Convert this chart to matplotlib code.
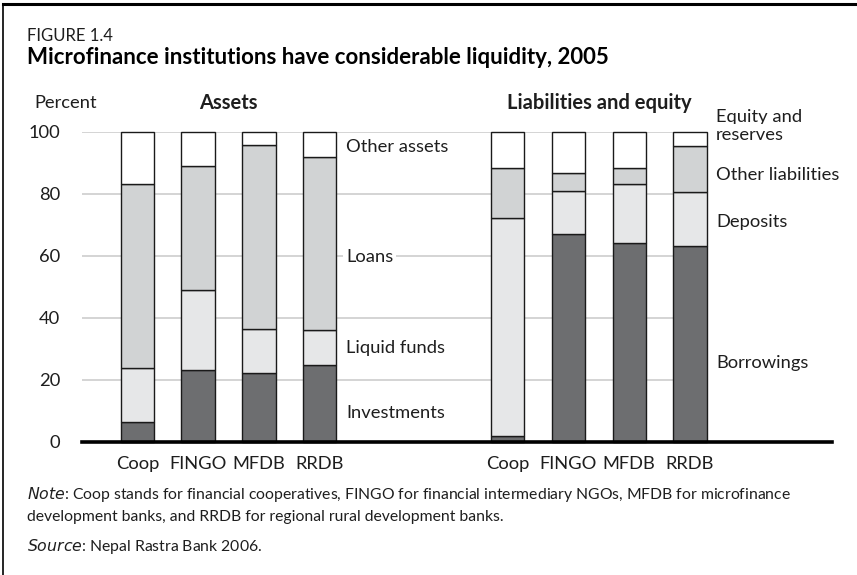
import matplotlib.pyplot as plt
from matplotlib.lines import Line2D

plt.rcParams['font.family'] = ['Lato', 'DejaVu Sans']

W, H = 857, 575

institutions = ['Coop', 'FINGO', 'MFDB', 'RRDB']

# assets, percent of total
investments = [6.3, 23.1, 22.2, 24.8]
liquid_funds = [17.6, 25.8, 14.3, 11.2]
loans = [59.1, 40.0, 59.1, 55.9]
other_assets = [17.0, 11.1, 4.4, 8.1]

# liabilities and equity, percent of total
borrowings = [2.0, 67.1, 64.0, 63.1]
deposits = [70.3, 13.9, 19.0, 17.5]
other_liabilities = [15.9, 5.6, 5.2, 14.9]
equity_reserves = [11.8, 13.4, 11.8, 4.5]

yticks = [0, 20, 40, 60, 80, 100]

dark = '#6d6e70'
light = '#e6e7e8'
mid = '#d1d3d4'
colors = [dark, light, mid, 'white']

x_assets = [0, 1, 2, 3]
x_liab = [6.09, 7.09, 8.09, 9.09]
bw = 0.55
fs = 13.2
ink = '#1e1e1e'

fig = plt.figure(figsize=(W / 100, H / 100), dpi=100)
ax = fig.add_axes([82.3 / W, 1 - 442 / H, (831.7 - 82.3) / W, (442 - 131.7) / H])
ax.set_xlim(-0.905, 11.42)
ax.set_ylim(0, 100)

# gridlines, stop at the last bar
for t in yticks[1:]:
    ax.plot([-0.905, 9.37], [t, t], color='#cdcdcd', lw=1.2, zorder=0)


def stack(xs, series):
    bottom = [0] * len(xs)
    for vals, c in zip(series, colors):
        ax.bar(xs, vals, bw, bottom=bottom, color=c, edgecolor='#1a1a1a',
               linewidth=1.0, zorder=2, clip_on=False)
        bottom = [b + v for b, v in zip(bottom, vals)]


stack(x_assets, [investments, liquid_funds, loans, other_assets])
stack(x_liab, [borrowings, deposits, other_liabilities, equity_reserves])

ax.axhline(0, color='black', lw=2.6, zorder=3, clip_on=False)

for s in ax.spines.values():
    s.set_visible(False)
ax.set_yticks(yticks)
ax.set_yticklabels([str(t) for t in yticks], fontsize=fs, color=ink)
ax.tick_params(axis='y', length=0, pad=16)
ax.set_xticks(x_assets + x_liab)
ax.set_xticklabels(institutions * 2, fontsize=fs, color=ink)
ax.tick_params(axis='x', length=0, pad=10)

lab = dict(fontsize=fs, color=ink, va='baseline', ha='left', zorder=4,
           bbox=dict(facecolor='white', edgecolor='none', pad=2))
ax.text(3.43, 93.6, 'Other assets', **lab)
ax.text(3.43, 58.1, 'Loans', **lab)
ax.text(3.43, 28.6, 'Liquid funds', **lab)
ax.text(3.43, 7.6, 'Investments', **lab)
ax.text(9.52, 103.2, 'Equity and', **lab)
ax.text(9.52, 97.3, 'reserves', **lab)
ax.text(9.52, 84.4, 'Other liabilities', **lab)
ax.text(9.52, 69.4, 'Deposits', **lab)
ax.text(9.52, 23.8, 'Borrowings', **lab)

ax.text(1.5, 1.073, 'Assets', transform=ax.get_xaxis_transform(), ha='center',
        va='baseline', fontsize=14.5, fontweight='bold', color=ink)
ax.text(7.59, 1.073, 'Liabilities and equity', transform=ax.get_xaxis_transform(),
        ha='center', va='baseline', fontsize=14.5, fontweight='bold', color=ink)

fig.text(34 / W, 1 - 108 / H, 'Percent', fontsize=fs, va='baseline', color=ink)
fig.text(27 / W, 1 - 40.7 / H, 'FIGURE 1.4', fontsize=12, va='baseline', color=ink)
fig.text(27 / W, 1 - 64 / H, 'Microfinance institutions have considerable liquidity, 2005',
         fontsize=16, fontweight='bold', va='baseline', color='black')

nfs = 11.3
fig.text(27 / W, 1 - 499 / H,
         r'$\it{Note}$' + ': Coop stands for financial cooperatives, FINGO for financial '
         'intermediary NGOs, MFDB for microfinance',
         fontsize=nfs, va='baseline', color=ink)
fig.text(27 / W, 1 - 521 / H,
         'development banks, and RRDB for regional rural development banks.',
         fontsize=nfs, va='baseline', color=ink)
fig.text(27 / W, 1 - 550.5 / H, r'$\it{Source}$' + ': Nepal Rastra Bank 2006.',
         fontsize=nfs, va='baseline', color=ink)

# frame: top and left rules
fig.add_artist(Line2D([3 / W, 1], [1 - 4 / H, 1 - 4 / H], color='black', lw=2.2))
fig.add_artist(Line2D([3 / W, 3 / W], [0, 1 - 4 / H], color='black', lw=1.2))

fig.savefig('out.png', dpi=100)
